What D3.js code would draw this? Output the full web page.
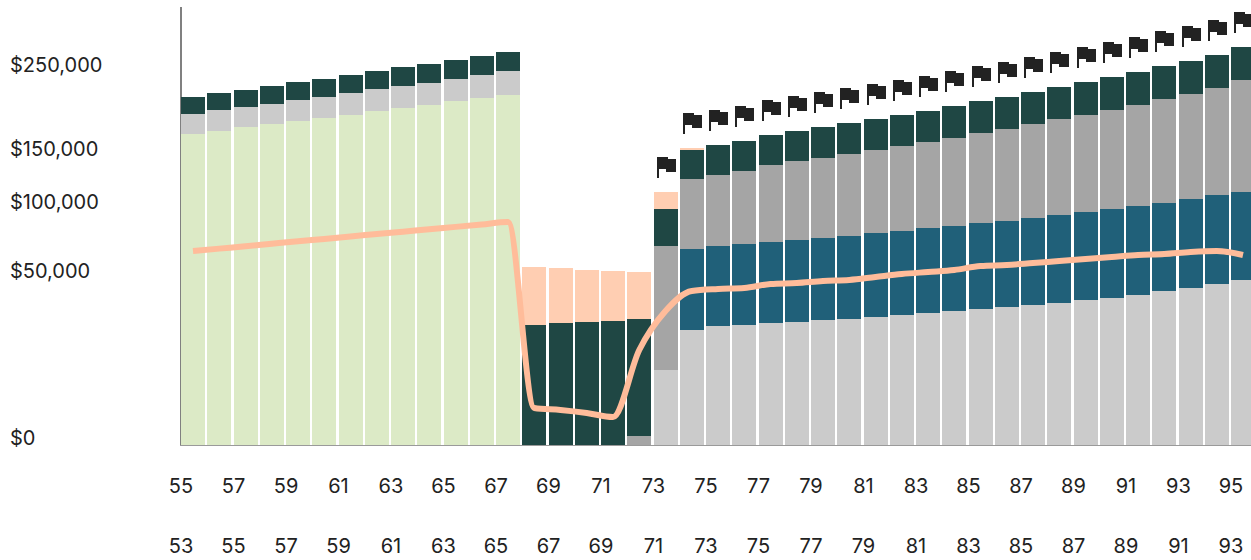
<!DOCTYPE html>
<html>
<head>
<meta charset="utf-8">
<script src="https://cdn.jsdelivr.net/npm/d3@7"></script>
<style>
  html, body { margin: 0; background: #fff; }
  svg { display: block; }
  text { font-family: Inter, "Noto Sans", sans-serif; font-size: 20px; fill: #222; }
</style>
</head>
<body>
<svg id="chart" width="1251" height="560"></svg>
<script>
// Retirement income by age, stacked by source
const ages = d3.range(55, 96);
const ageTicks = [55,57,59,61,63,65,67,69,71,73,75,77,79,81,83,85,87,89,91,93,95];
const spouseTicks = [53,55,57,59,61,63,65,67,69,71,73,75,77,79,81,83,85,87,89,91,93];
const dollarTicks = [0, 50000, 100000, 150000, 250000];

const earnings = [173800,177170,181710,185160,188630,192140,195680,200450,204070,207720,212640,216360,220120,
  0,0,0,0,0,0,0,0,0,0,0,0,0,0,0,0,0,0,0,0,0,0,0,0,0,0,0,0];
const socialSecurity = [23070,24490,23580,23790,25250,25470,26960,27280,27520,27760,28060,29640,31230,
  0,0,0,0,0,10110,23760,25450,25880,26750,27190,28080,28530,29440,30370,31310,32270,33240,34220,35220,36230,37780,38830,40430,42620,44290,46580,48920];
const pension = [0,0,0,0,0,0,0,0,0,0,0,0,0,0,0,0,0,0,0,
  45270,45710,46720,47300,48320,48920,49960,51320,51920,53300,53910,55320,55940,57370,58830,59770,61250,62210,62610,64450,65730,66100];
const withdrawals = [0,0,0,0,0,0,0,0,0,0,0,0,0,0,0,0,0,146,61050,
  58110,59830,62310,66830,69420,71010,73670,75620,78360,80360,83180,86360,89270,92570,95910,98130,101580,105080,109890,112640,116700,124370];
const taxes = [20740,20980,21170,22640,22900,23090,23360,23640,25160,25360,25650,25910,26180,
  25880,26750,27190,27630,28384,28920,29240,30730,31150,31800,32240,33700,34150,34590,35030,35480,37140,37720,38180,38750,39330,41100,41680,42280,42990,43580,44300,45240];
const shortfall = [0,0,0,0,0,0,0,0,0,0,0,0,0,31050,29540,27840,26770,25250,14940,2120,
  0,0,0,0,0,0,0,0,0,0,0,0,0,0,0,0,0,0,0,0,0];
const spending = [67600,69300,71000,72800,74600,76300,78100,80000,81800,83700,85500,87400,89400,
  2460,2200,1840,1410,16220,32270,42620,43730,44290,46580,47160,48330,48920,50720,52540,53780,55030,57570,58220,59520,60840,62170,63510,64870,65550,66930,67630,64870];
// Ages from this index onward carry a milestone flag
const firstFlagIndex = 18;

const seriesKeys = ["earnings", "socialSecurity", "pension", "withdrawals", "taxes", "shortfall"];
const seriesColors = {
  earnings: "#DCEAC6",
  socialSecurity: "#CBCBCB",
  pension: "#206079",
  withdrawals: "#A5A5A5",
  taxes: "#1F4744",
  shortfall: "#FFCEB2"
};

const table = ages.map((age, i) => ({
  age,
  earnings: earnings[i],
  socialSecurity: socialSecurity[i],
  pension: pension[i],
  withdrawals: withdrawals[i],
  taxes: taxes[i],
  shortfall: shortfall[i]
}));

const svg = d3.select("#chart");

const x = d3.scaleBand().domain(ages).range([181, 1255]).paddingInner(2.25 / 26.25).paddingOuter(0).align(0);
const y = d3.scaleSqrt().domain([0, 250000]).range([445, 72]);

// Axis lines sit beneath the bars
svg.append("line").attr("x1", 181).attr("x2", 181).attr("y1", 7).attr("y2", 446)
  .attr("stroke", "#808080").attr("stroke-width", 2);
svg.append("line").attr("x1", 180).attr("x2", 1251).attr("y1", 445.5).attr("y2", 445.5)
  .attr("stroke", "#9a9a9a").attr("stroke-width", 1);

// Stacked bars
const stacked = d3.stack().keys(seriesKeys)(table);
svg.append("g").selectAll("g").data(stacked).join("g")
  .attr("fill", s => seriesColors[s.key])
  .selectAll("rect")
  .data(s => s.filter(d => d[1] > d[0]))
  .join("rect")
  .attr("x", d => Math.round(x(d.data.age)))
  .attr("width", Math.round(x.bandwidth()))
  .attr("y", d => Math.round(y(d[1])))
  .attr("height", d => Math.round(y(d[0])) - Math.round(y(d[1])));

// Spending line
const line = d3.line()
  .x((d, i) => x(ages[i]) + x.bandwidth() / 2)
  .y(d => y(d))
  .curve(d3.curveMonotoneX);
svg.append("path").attr("d", line(spending))
  .attr("fill", "none").attr("stroke", "#FFBC9A").attr("stroke-width", 6);

// Milestone flags, a fixed gap above each stack
const flagPath = "M0,0H11V2H19V15H9V12H2V21H0Z";
const totals = table.map(row => d3.sum(seriesKeys, k => row[k]));
svg.append("g").selectAll("path")
  .data(ages.slice(firstFlagIndex))
  .join("path")
  .attr("d", flagPath)
  .attr("fill", "#222")
  .attr("transform", (age, i) => `translate(${Math.round(x(age)) + 3},${Math.round(y(totals[firstFlagIndex + i])) - 35})`);

// Dollar labels rest on their tick positions
svg.append("g").selectAll("text").data(dollarTicks).join("text")
  .attr("x", 10).attr("y", d => y(d))
  .text(d => "$" + d3.format(",")(d));

// Two rows of age labels, centred on each bar's left edge
const ageRow = (values, baseline) => svg.append("g").selectAll("text").data(values).join("text")
  .attr("x", (d, i) => x(ageTicks[i]))
  .attr("y", baseline)
  .attr("text-anchor", "middle")
  .text(d => d);
ageRow(ageTicks, 493);
ageRow(spouseTicks, 553);
</script>
</body>
</html>
